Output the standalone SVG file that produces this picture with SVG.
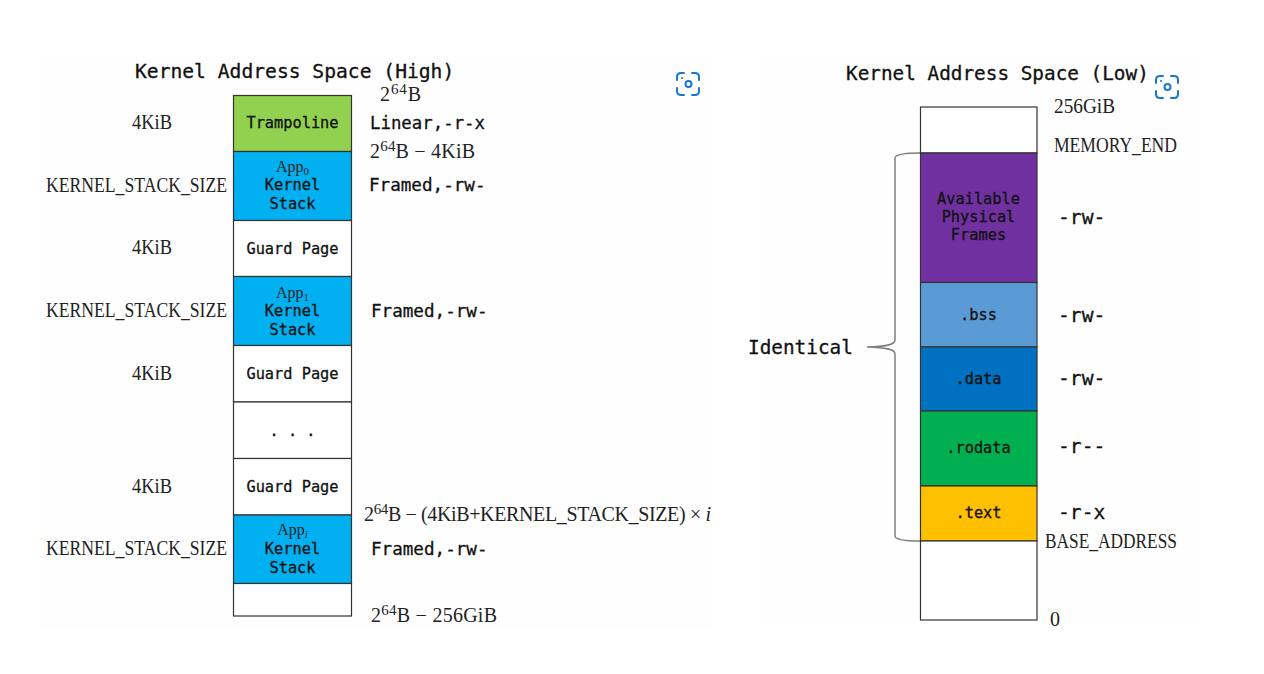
<svg xmlns="http://www.w3.org/2000/svg" width="1264" height="674" viewBox="0 0 1264 674">
<defs>
<style>
.m{font-family:"DejaVu Sans Mono","Liberation Mono",monospace;fill:#111;stroke:#111;stroke-width:.3}
.s{font-family:"Liberation Serif","DejaVu Serif",serif;fill:#222}
.t{font-size:19.65px}
.tl{font-size:19.35px}
.b{font-size:15.3px;text-anchor:middle}
.a{font-size:17.6px}
.l{font-size:20px}
.ap{font-size:16px;text-anchor:middle}
.r{stroke:#333;stroke-width:1.2}
.w{fill:#fff}
.g{fill:#92d050}
.c{fill:#00b0f0}
.sub{font-size:11px}
.sup{font-size:15px}
.cam{fill:none;stroke:#1877d2;stroke-width:2;stroke-linecap:round}
</style>
<g id="cam-icon">
<path class="cam" d="M0 7V4Q0 0 4 0H7M15 0H18Q22 0 22 4V7M22 15V18Q22 22 18 22H15M7 22H4Q0 22 0 18V15"/>
<circle class="cam" cx="11.500" cy="11" r="3"/>
<circle cx="5" cy="5" r="1.100" fill="#1877d2"/>
</g>
</defs>
<rect width="1264" height="674" fill="#fff"/>
<rect x="38" y="55" width="674" height="573" fill="#fefefe"/>
<rect x="760" y="58" width="440" height="568" fill="#fefefe"/>

<g id="connectors">
<path id="brace" d="M920.500 153C905 153 895 154 895 158V340C895 345 885 346.500 867 347C885 347.500 895 349 895 354V536C895 540 905 541 920.500 541" fill="none" stroke="#7f7f7f" stroke-width="1.500"/>
</g>

<g id="title-high"><text class="m t" x="135" y="78">Kernel Address Space (High)</text></g>
<g id="title-low"><text class="m tl" x="846" y="80">Kernel Address Space (Low)</text></g>
<use id="icon-high" href="#cam-icon" x="677" y="73"/>
<use id="icon-low" href="#cam-icon" x="1156" y="76"/>

<g id="trampoline"><rect class="r g" x="233.500" y="95.500" width="118" height="56"/><text class="m b" x="292.500" y="127.500">Trampoline</text></g>
<g id="app0"><rect class="r c" x="233.500" y="151.500" width="118" height="69"/><text class="s ap" x="292.500" y="172">App<tspan class="sub" dy="3">0</tspan></text><text class="m b" x="292.500" y="190">Kernel</text><text class="m b" x="292.500" y="208.500">Stack</text></g>
<g id="guard1"><rect class="r w" x="233.500" y="220.500" width="118" height="56"/><text class="m b" x="292.500" y="253.500">Guard Page</text></g>
<g id="app1"><rect class="r c" x="233.500" y="276.500" width="118" height="69"/><text class="s ap" x="292.500" y="298">App<tspan class="sub" dy="3">1</tspan></text><text class="m b" x="292.500" y="316">Kernel</text><text class="m b" x="292.500" y="334.500">Stack</text></g>
<g id="guard2"><rect class="r w" x="233.500" y="345.500" width="118" height="56.500"/><text class="m b" x="292.500" y="378.500">Guard Page</text></g>
<g id="dots"><rect class="r w" x="233.500" y="402" width="118" height="56.500"/><text class="m b" x="292.500" y="436">. . .</text></g>
<g id="guard3"><rect class="r w" x="233.500" y="458.500" width="118" height="56.500"/><text class="m b" x="292.500" y="491.500">Guard Page</text></g>
<g id="appi"><rect class="r c" x="233.500" y="515" width="118" height="68.500"/><text class="s ap" x="292.500" y="535">App<tspan class="sub" dy="3" font-style="italic">i</tspan></text><text class="m b" x="292.500" y="554">Kernel</text><text class="m b" x="292.500" y="572.500">Stack</text></g>
<g id="bottom-high"><rect class="r w" x="233.500" y="583.500" width="118" height="32.500"/></g>

<g id="labels-high-left">
<text class="s l" x="132" y="129" textLength="40" lengthAdjust="spacingAndGlyphs">4KiB</text>
<text class="s l" x="46" y="192" textLength="181" lengthAdjust="spacingAndGlyphs">KERNEL_STACK_SIZE</text>
<text class="s l" x="132" y="254" textLength="40" lengthAdjust="spacingAndGlyphs">4KiB</text>
<text class="s l" x="46" y="317" textLength="181" lengthAdjust="spacingAndGlyphs">KERNEL_STACK_SIZE</text>
<text class="s l" x="132" y="380" textLength="40" lengthAdjust="spacingAndGlyphs">4KiB</text>
<text class="s l" x="132" y="493" textLength="40" lengthAdjust="spacingAndGlyphs">4KiB</text>
<text class="s l" x="46" y="555" textLength="181" lengthAdjust="spacingAndGlyphs">KERNEL_STACK_SIZE</text>
</g>
<g id="labels-high-right">
<text class="s l" x="380" y="101" textLength="41" lengthAdjust="spacing">2<tspan class="sup" dy="-7">64</tspan><tspan dy="7">B</tspan></text>
<text class="m a" x="370" y="129" textLength="115" lengthAdjust="spacingAndGlyphs">Linear,-r-x</text>
<text class="s l" x="370" y="158" textLength="105" lengthAdjust="spacing">2<tspan class="sup" dy="-7">64</tspan><tspan dy="7">B − 4KiB</tspan></text>
<text class="m a" x="369" y="191">Framed,-rw-</text>
<text class="m a" x="371" y="317">Framed,-rw-</text>
<text class="s l" x="364" y="521" textLength="347" lengthAdjust="spacing">2<tspan class="sup" dy="-7">64</tspan><tspan dy="7">B − (4KiB+KERNEL_STACK_SIZE) × </tspan><tspan font-style="italic">i</tspan></text>
<text class="m a" x="371" y="555">Framed,-rw-</text>
<text class="s l" x="371" y="622" textLength="126" lengthAdjust="spacing">2<tspan class="sup" dy="-7">64</tspan><tspan dy="7">B − 256GiB</tspan></text>
</g>

<g id="top-low"><rect class="r w" x="920.500" y="107" width="116.500" height="46"/></g>
<g id="frames"><rect class="r" fill="#7030a0" x="920.500" y="153" width="116.500" height="129.500"/><text class="m b" x="978.500" y="204">Available</text><text class="m b" x="978.500" y="222">Physical</text><text class="m b" x="978.500" y="240">Frames</text></g>
<g id="bss"><rect class="r" fill="#5b9bd5" x="920.500" y="282.500" width="116.500" height="64.500"/><text class="m b" x="978.500" y="320">.bss</text></g>
<g id="data"><rect class="r" fill="#0070c0" x="920.500" y="347" width="116.500" height="64"/><text class="m b" x="978.500" y="384">.data</text></g>
<g id="rodata"><rect class="r" fill="#00b050" x="920.500" y="411" width="116.500" height="75"/><text class="m b" x="978.500" y="452.500">.rodata</text></g>
<g id="text"><rect class="r" fill="#ffc000" x="920.500" y="486" width="116.500" height="55"/><text class="m b" x="978.500" y="518">.text</text></g>
<g id="bottom-low"><rect class="r w" x="920.500" y="541" width="116.500" height="79"/></g>

<g id="labels-low">
<text class="m tl" x="748" y="354">Identical</text>
<text class="s l" x="1054" y="113" textLength="61" lengthAdjust="spacingAndGlyphs">256GiB</text>
<text class="s l" x="1054" y="152" textLength="123" lengthAdjust="spacingAndGlyphs">MEMORY_END</text>
<text class="m t" x="1058" y="224">-rw-</text>
<text class="m t" x="1058" y="322">-rw-</text>
<text class="m t" x="1058" y="385">-rw-</text>
<text class="m t" x="1058" y="453">-r--</text>
<text class="m t" x="1058" y="519">-r-x</text>
<text class="s l" x="1045" y="548" textLength="132" lengthAdjust="spacingAndGlyphs">BASE_ADDRESS</text>
<text class="s l" x="1050" y="626">0</text>
</g>
</svg>
